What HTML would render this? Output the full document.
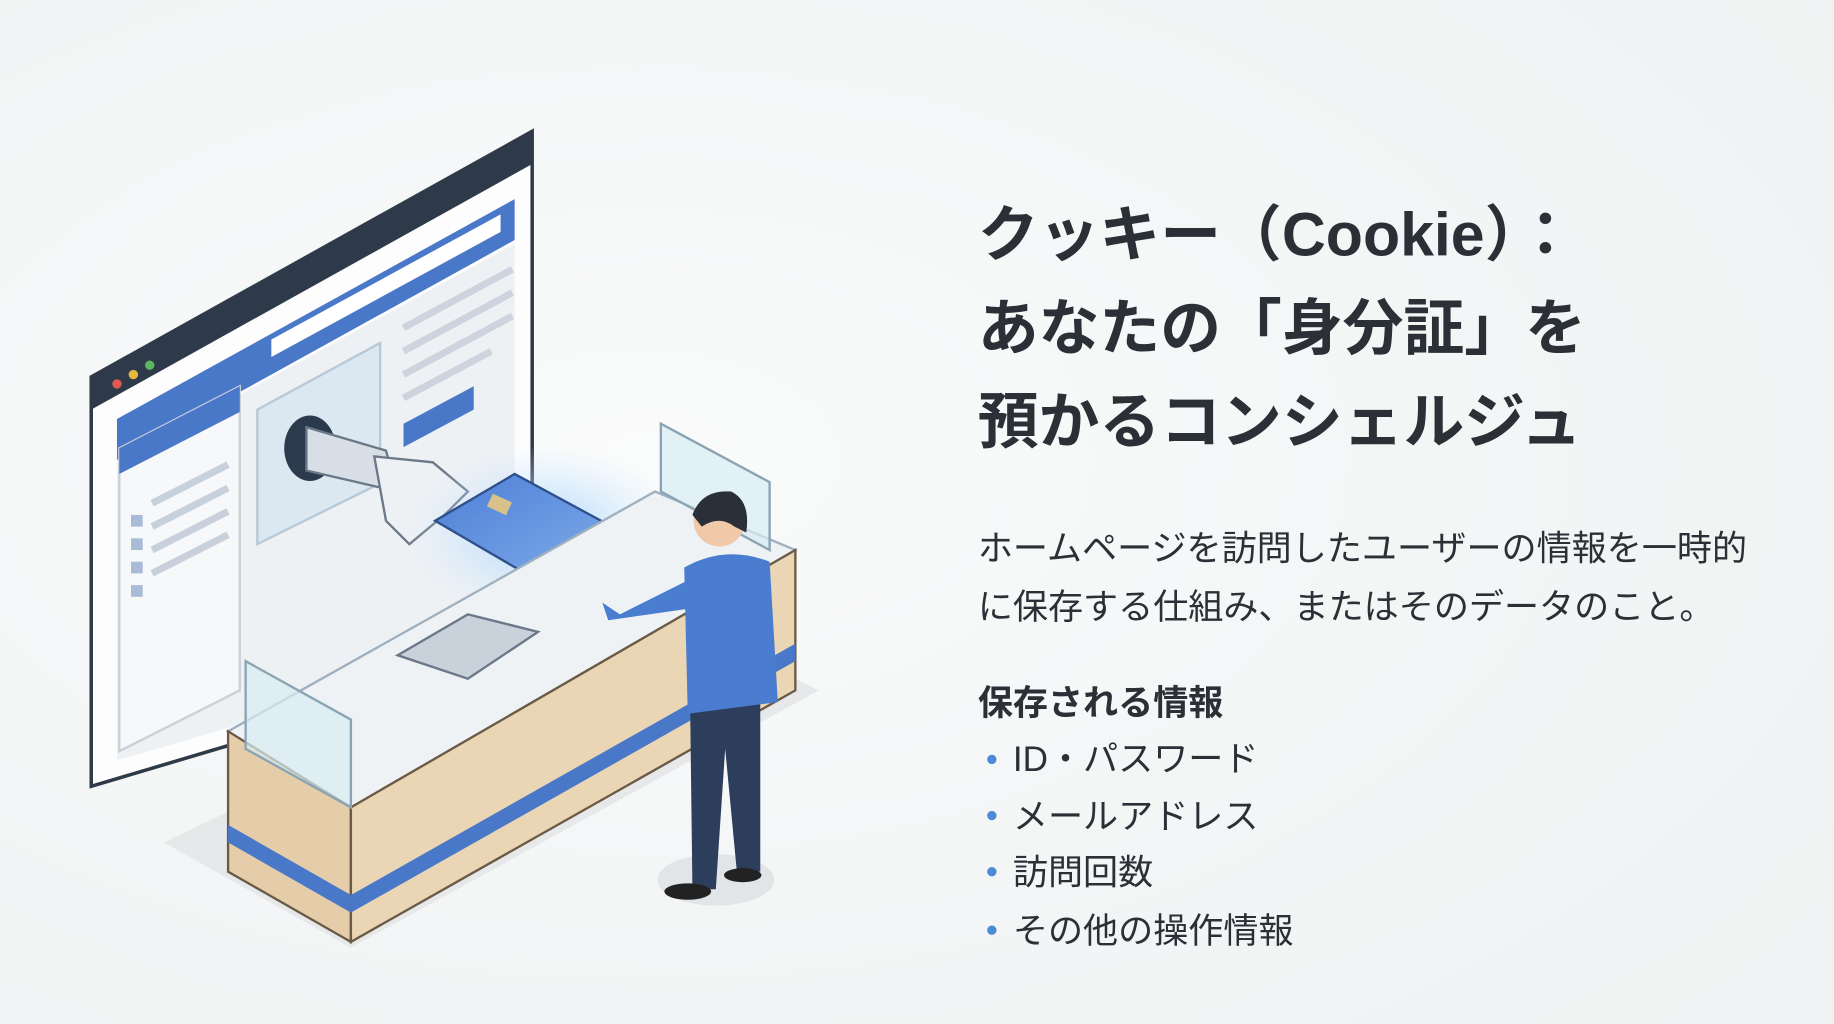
<!DOCTYPE html>
<html><head><meta charset="utf-8"><style>
html,body{margin:0;padding:0;width:1834px;height:1024px;overflow:hidden;background:#f4f5f6;}
svg{display:block}
text{font-family:"Liberation Sans","Noto Sans CJK JP",sans-serif;fill:#2b2f36}
</style></head><body>
<svg width="1834" height="1024" viewBox="0 0 1568 875" xmlns="http://www.w3.org/2000/svg">
<defs>
<radialGradient id="bg" cx="0.35" cy="0.45" r="0.8"><stop offset="0" stop-color="#fafbfb"/><stop offset="1" stop-color="#eff1f2"/></radialGradient>
<radialGradient id="glow" cx="0.5" cy="0.5" r="0.5"><stop offset="0" stop-color="#9fd2ff" stop-opacity="0.9"/><stop offset="1" stop-color="#cfe8ff" stop-opacity="0"/></radialGradient>
<linearGradient id="card" x1="0" y1="0" x2="1" y2="1"><stop offset="0" stop-color="#4d7fd6"/><stop offset="1" stop-color="#8bb6ee"/></linearGradient>
</defs>
<rect width="1568" height="875" fill="url(#bg)"/>
<!-- shadow -->
<polygon points="140,720 300,810 700,590 560,520" fill="#e6e8ea"/>
<!-- browser -->
<polygon points="78,322 455,112 455,560 78,672" fill="#fdfdfe" stroke="#2f3a48" stroke-width="3"/>
<polygon points="78,322 455,112 455,140 78,350" fill="#2e3a49"/>
<circle cx="100" cy="328" r="4" fill="#e05a4f"/><circle cx="114" cy="320" r="4" fill="#e8b83c"/><circle cx="128" cy="312" r="4" fill="#5cb85c"/>
<polygon points="100,358 440,170 440,205 100,393" fill="#4a78c8"/>
<polygon points="232,290 428,183 428,198 232,305" fill="#fff"/>
<polygon points="100,395 440,208 440,550 100,650" fill="#eef1f4"/>
<polygon points="102,383 205,330 205,590 102,642" fill="#f7f8fa" stroke="#c9d0d8" stroke-width="2"/>
<polygon points="102,383 205,330 205,352 102,405" fill="#4a78c8"/>
<g stroke="#c7d0db" stroke-width="6">
<line x1="130" y1="430" x2="195" y2="397"/><line x1="130" y1="450" x2="195" y2="417"/><line x1="130" y1="470" x2="195" y2="437"/><line x1="130" y1="490" x2="195" y2="457"/></g>
<g fill="#a9bbd6"><rect x="112" y="440" width="10" height="10"/><rect x="112" y="460" width="10" height="10"/><rect x="112" y="480" width="10" height="10"/><rect x="112" y="500" width="10" height="10"/></g>
<polygon points="220,350 325,293 325,413 220,465" fill="#dbe8f2" stroke="#b8c8d6" stroke-width="2"/>
<polygon points="345,362 405,330 405,350 345,382" fill="#4a78c8"/>
<g stroke="#cdd4dd" stroke-width="6">
<line x1="345" y1="280" x2="438" y2="230"/><line x1="345" y1="300" x2="438" y2="250"/><line x1="345" y1="320" x2="438" y2="270"/><line x1="345" y1="340" x2="420" y2="300"/></g>
<!-- robot arm -->
<ellipse cx="265" cy="383" rx="22" ry="28" fill="#2c3a4d"/>
<polygon points="262,365 330,385 340,420 262,402" fill="#d8dee5" stroke="#6b7887" stroke-width="2"/>
<polygon points="320,390 370,395 400,420 380,440 350,465 330,445" fill="#eef1f4" stroke="#6b7887" stroke-width="2"/>
<!-- glow + card -->
<ellipse cx="465" cy="455" rx="120" ry="75" fill="url(#glow)"/>
<polygon points="372,445 440,405 560,470 492,515" fill="url(#card)" stroke="#2f4f8a" stroke-width="2"/>
<rect x="418" y="425" width="18" height="12" fill="#d8c28a" transform="rotate(25 427 431)"/>
<text x="505" y="470" font-size="12" fill="#fff" transform="rotate(-28 505 470)" style="fill:#fff">CUOUC</text>
<!-- counter -->
<polygon points="195,625 560,420 680,470 300,690" fill="#eef2f5" stroke="#9fb0bf" stroke-width="2"/>
<polygon points="195,625 300,690 300,805 195,745" fill="#e4cda8" stroke="#6b5a45" stroke-width="2"/>
<polygon points="300,690 680,470 680,590 300,805" fill="#ead6b4" stroke="#6b5a45" stroke-width="2"/>
<polygon points="195,705 300,765 300,780 195,720" fill="#4a78c8"/>
<polygon points="300,765 680,550 680,565 300,780" fill="#4a78c8"/>
<polygon points="210,565 300,615 300,690 210,640" fill="#d7ecf2" fill-opacity="0.7" stroke="#8aa4b3" stroke-width="2"/>
<polygon points="565,362 658,412 658,470 565,420" fill="#d7ecf2" fill-opacity="0.7" stroke="#8aa4b3" stroke-width="2"/>
<polygon points="340,560 400,525 460,540 400,580" fill="#c9d2da" stroke="#6b7887" stroke-width="2"/>
<!-- person -->
<ellipse cx="612" cy="752" rx="50" ry="22" fill="#e2e5e8"/>
<polygon points="590,600 650,600 650,745 630,745 620,640 612,760 592,760" fill="#2c3e5c"/>
<path d="M585 485 Q620 465 658 480 L665 600 L588 610 Z" fill="#4a7cd0"/>
<path d="M590 495 L530 525 L515 515 L520 530 L590 520 Z" fill="#4a7cd0"/>
<circle cx="615" cy="445" r="22" fill="#f0c9a8"/>
<path d="M592 440 Q600 418 625 420 Q642 428 638 455 L628 450 Q615 440 600 450 Z" fill="#2a2f38"/>
<ellipse cx="588" cy="762" rx="20" ry="7" fill="#222"/><ellipse cx="635" cy="748" rx="16" ry="6" fill="#222"/>
<!-- text -->
<text x="836" y="218" font-size="52" font-weight="bold">クッキー（Cookie）：</text>
<text x="836" y="298" font-size="52" font-weight="bold">あなたの「身分証」を</text>
<text x="836" y="378" font-size="52" font-weight="bold">預かるコンシェルジュ</text>
<text x="836" y="479" font-size="30">ホームページを訪問したユーザーの情報を一時的</text>
<text x="836" y="529" font-size="30">に保存する仕組み、またはそのデータのこと。</text>
<text x="836" y="611" font-size="30" font-weight="bold">保存される情報</text>
<g fill="#4a8ad6"><circle cx="848" cy="649" r="4"/><circle cx="848" cy="697" r="4"/><circle cx="848" cy="745" r="4"/><circle cx="848" cy="795" r="4"/></g>
<text x="866" y="659" font-size="30">ID・パスワード</text>
<text x="866" y="708" font-size="30">メールアドレス</text>
<text x="866" y="756" font-size="30">訪問回数</text>
<text x="866" y="806" font-size="30">その他の操作情報</text>
</svg>
</body></html>
